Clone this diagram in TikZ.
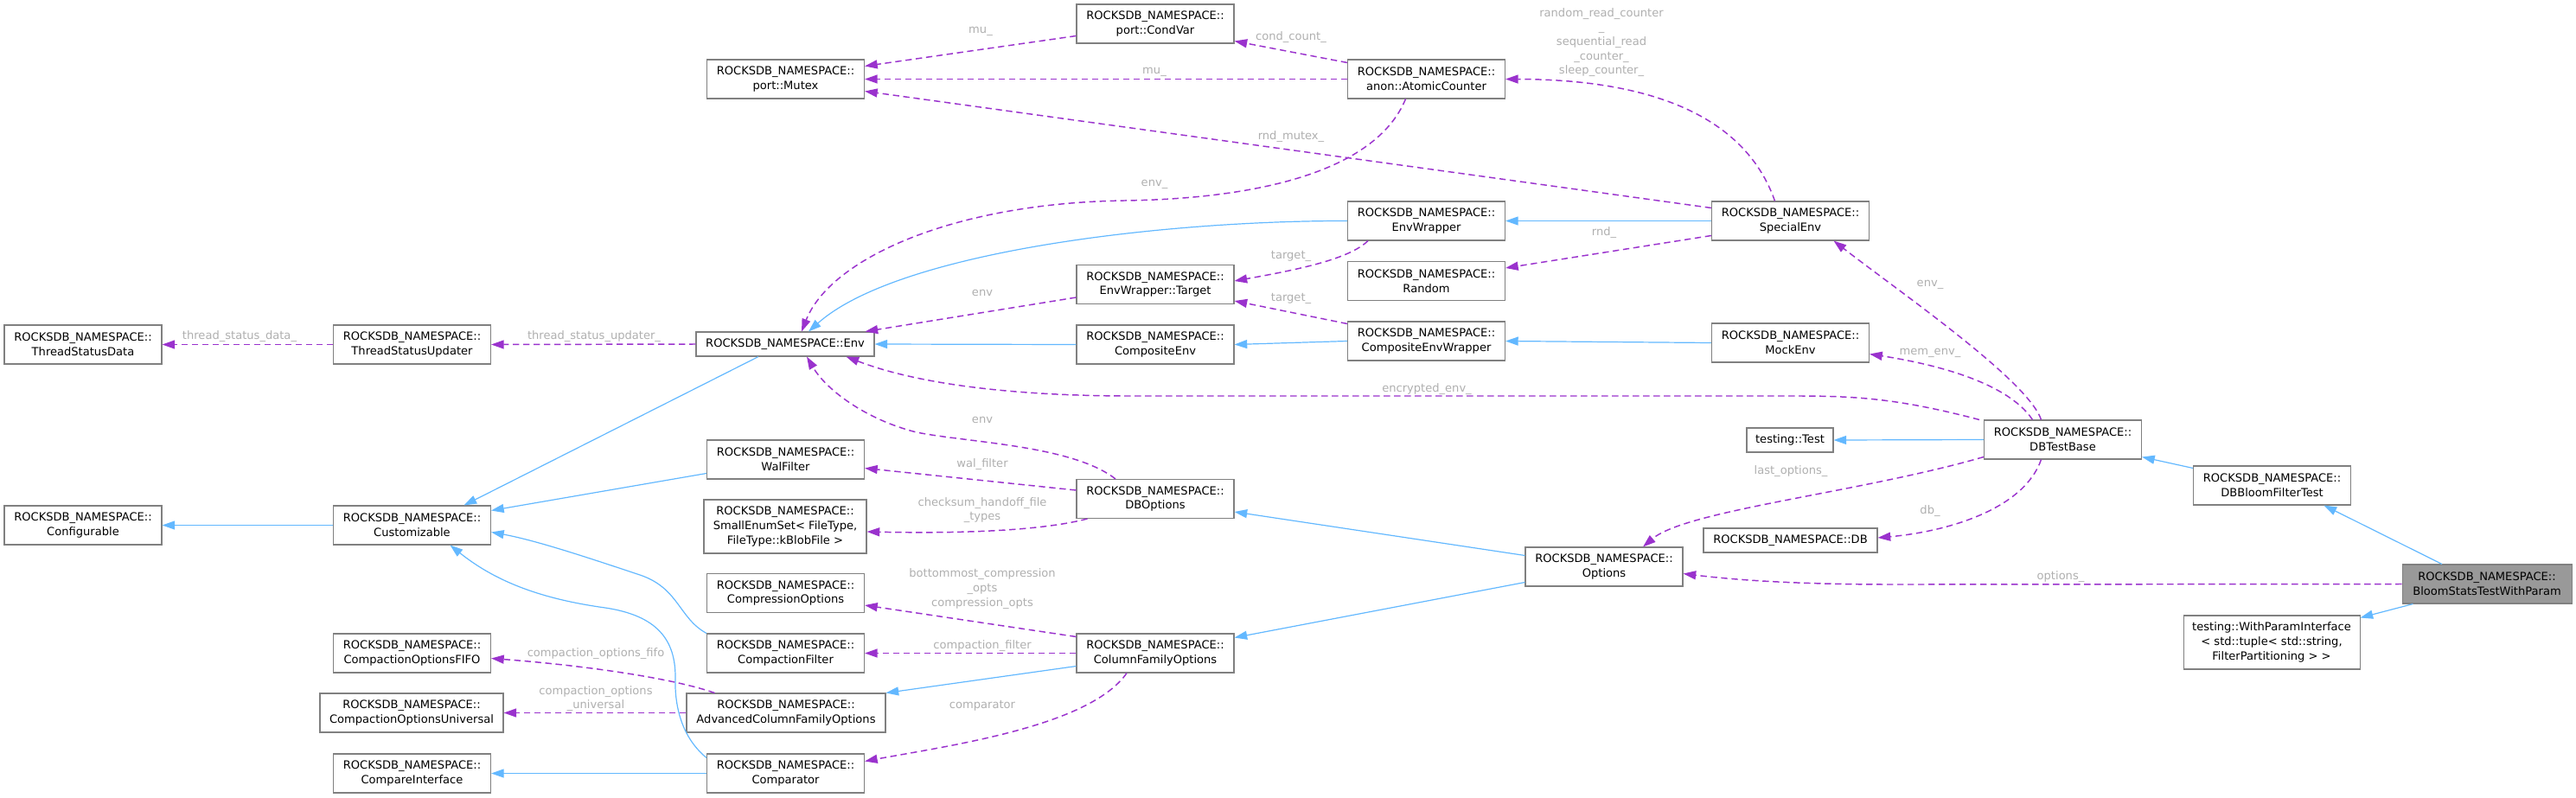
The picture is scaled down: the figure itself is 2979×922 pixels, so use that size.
\documentclass[tikz,border=0pt]{standalone}
\usepackage{fontspec}
\setmainfont{DejaVu Sans}
\usetikzlibrary{positioning,arrows.meta,calc}
\definecolor{boxcol}{RGB}{128,128,128}
\definecolor{selcol}{RGB}{153,153,153}
\definecolor{inhcol}{RGB}{99,184,255}
\definecolor{memcol}{RGB}{154,50,205}
\definecolor{lblcol}{RGB}{175,175,175}
\newcommand{\dxfont}{\fontsize{9.8}{12.5}\selectfont}

\begin{document}
\begin{tikzpicture}[
  x=0.75pt, y=-0.75pt,
  every node/.style={font=\dxfont},
  %% class box  \node[cls=<width in px>]{...}
  cls/.style={
    draw=boxcol, fill=white, line width=0.8pt,
    minimum width=#1*0.75pt, minimum height=33.75pt,
    align=center, inner sep=0pt
  },
  cls/.default=182,
  %% edge labels
  lbl/.style={text=lblcol, align=center, inner sep=0pt},
  %% inheritance (blue) and member (purple, dashed) arrows
  inh/.style={-{Triangle[length=11pt,width=7.5pt]}, line width=0.9pt, color=inhcol},
  mem/.style={-{Triangle[length=11pt,width=7.5pt]}, line width=1.1pt, color=memcol,
              dash pattern=on 5.5pt off 3.5pt},
]
\useasboundingbox (0,0) rectangle (2979,922);

%%── Column 1 ────────────────────────────────────────────────────────────────
\node[cls] (tsd) at (96,398.5) {ROCKSDB\_NAMESPACE::\\ThreadStatusData};
\node[cls] (cfg) at (96,607.5) {ROCKSDB\_NAMESPACE::\\Configurable};

%%── Column 2 ────────────────────────────────────────────────────────────────
\node[cls] (tsu)   at (476.5,398.5) {ROCKSDB\_NAMESPACE::\\ThreadStatusUpdater};
\node[cls] (cust)  at (476.5,607.5) {ROCKSDB\_NAMESPACE::\\Customizable};
\node[cls] (fifo)  at (476.5,755.5) {ROCKSDB\_NAMESPACE::\\CompactionOptionsFIFO};
\node[cls=212] (univ) at (476,824.5) {ROCKSDB\_NAMESPACE::\\CompactionOptionsUniversal};
\node[cls] (cmpif) at (476.5,894.5) {ROCKSDB\_NAMESPACE::\\CompareInterface};

%%── Column 3 ────────────────────────────────────────────────────────────────
\node[cls] (mutex) at (908.5,91.5) {ROCKSDB\_NAMESPACE::\\port::Mutex};
\node[cls=206, minimum height=21pt] (env) at (908,398) {ROCKSDB\_NAMESPACE::Env};
\node[cls] (wal)   at (908.5,531.5) {ROCKSDB\_NAMESPACE::\\WalFilter};
\node[cls=188, minimum height=46.5pt] (sset) at (908,609)
  {ROCKSDB\_NAMESPACE::\\SmallEnumSet< FileType,\\FileType::kBlobFile >};
\node[cls] (compr) at (908.5,686) {ROCKSDB\_NAMESPACE::\\CompressionOptions};
\node[cls] (cfilt) at (908.5,755.5) {ROCKSDB\_NAMESPACE::\\CompactionFilter};
\node[cls=230] (acfo) at (909,824.5) {ROCKSDB\_NAMESPACE::\\AdvancedColumnFamilyOptions};
\node[cls] (cmp)   at (908.5,894.5) {ROCKSDB\_NAMESPACE::\\Comparator};

%%── Column 4 ────────────────────────────────────────────────────────────────
\node[cls] (condvar) at (1336,27.5) {ROCKSDB\_NAMESPACE::\\port::CondVar};
\node[cls] (target)  at (1336,329)  {ROCKSDB\_NAMESPACE::\\EnvWrapper::Target};
\node[cls] (cenv)    at (1336,398.5) {ROCKSDB\_NAMESPACE::\\CompositeEnv};
\node[cls] (dbopt)   at (1336,577)  {ROCKSDB\_NAMESPACE::\\DBOptions};
\node[cls] (cfo)     at (1336,755.5) {ROCKSDB\_NAMESPACE::\\ColumnFamilyOptions};

%%── Column 5 ────────────────────────────────────────────────────────────────
\node[cls] (atomic) at (1649.5,91.5)  {ROCKSDB\_NAMESPACE::\\anon::AtomicCounter};
\node[cls] (envw)   at (1649.5,255.5) {ROCKSDB\_NAMESPACE::\\EnvWrapper};
\node[cls] (rand)   at (1649.5,325)   {ROCKSDB\_NAMESPACE::\\Random};
\node[cls] (cenvw)  at (1649.5,394.5) {ROCKSDB\_NAMESPACE::\\CompositeEnvWrapper};
\node[cls] (opts)   at (1855,655.5)   {ROCKSDB\_NAMESPACE::\\Options};

%%── Column 6 ────────────────────────────────────────────────────────────────
\node[cls] (senv) at (2070.5,255.5) {ROCKSDB\_NAMESPACE::\\SpecialEnv};
\node[cls] (menv) at (2070.5,396.5) {ROCKSDB\_NAMESPACE::\\MockEnv};
\node[cls=100, minimum height=21pt] (gtest) at (2070,509) {testing::Test};
\node[cls=201, minimum height=21pt] (db) at (2070.5,625) {ROCKSDB\_NAMESPACE::DB};

%%── Columns 7-9 ─────────────────────────────────────────────────────────────
\node[cls] (dbtb)  at (2385.5,508.5) {ROCKSDB\_NAMESPACE::\\DBTestBase};
\node[cls] (dbbft) at (2627.5,561.5) {ROCKSDB\_NAMESPACE::\\DBBloomFilterTest};
\node[cls=204, minimum height=46.5pt] (wpi) at (2627,743)
  {testing::WithParamInterface\\< std::tuple< std::string,\\ FilterPartitioning > >};
\node[cls=196, fill=selcol] (bstwp) at (2876,675.5)
  {ROCKSDB\_NAMESPACE::\\BloomStatsTestWithParam};

%%══════════════════════════════════════════════════════════════════════════
%%  Inheritance
%%══════════════════════════════════════════════════════════════════════════
\draw[inh] (cust.west) -- (cfg.east);
\draw[inh] ($(env.south)+(-31,0)$) -- ($(cust.north)+(60,0)$);
\draw[inh] ($(wal.west)+(0,16)$) -- ($(cust.east)+(0,-17)$);
\draw[inh] (cfilt.north west) .. controls (785,715) and (785,680) .. (740,665)
  .. controls (680,645) and (620,625) .. ($(cust.east)+(0,8)$);
\draw[inh] ($(cmp.north west)+(0,5)$) .. controls (785,850) and (780,810) .. (781,783)
  .. controls (781,740) and (760,712) .. (700,703)
  .. controls (620,692) and (570,670) .. ($(cust.south)+(44,0)$);
\draw[inh] (cmp.west) -- (cmpif.east);
\draw[inh] (envw.west) .. controls (1350,255) and (1040,290) .. ($(env.north)+(27,0)$);
\draw[inh] (cenv.west) -- (env.east);
\draw[inh] (cenvw.west) -- (cenv.east);
\draw[inh] (senv.west) -- (envw.east);
\draw[inh] (menv.west) -- (cenvw.east);
\draw[inh] ($(opts.west)+(0,-13)$) -- ($(dbopt.east)+(0,15)$);
\draw[inh] ($(opts.west)+(0,18)$) -- ($(cfo.east)+(0,-18)$);
\draw[inh] ($(cfo.west)+(0,15)$) -- (acfo.north east);
\draw[inh] (dbtb.west) -- (gtest.east);
\draw[inh] ($(dbbft.north west)+(0,3)$) -- ($(dbtb.south east)+(0,-3)$);
\draw[inh] ($(bstwp.north)+(-52,0)$) -- ($(dbbft.south)+(60,0)$);
\draw[inh] ($(bstwp.south west)+(13,0)$) -- ($(wpi.north east)+(0,3)$);

%%══════════════════════════════════════════════════════════════════════════
%%  Members
%%══════════════════════════════════════════════════════════════════════════
\draw[mem] (tsu.west) -- (tsd.east);
\draw[mem] (env.west) -- (tsu.east);
\draw[mem] ($(condvar.west)+(0,14)$) -- ($(mutex.east)+(0,-15)$);
\draw[mem] (atomic.west) -- (mutex.east);
\draw[mem] ($(atomic.north west)+(0,4)$) -- ($(condvar.east)+(0,20)$);
\draw[mem] ($(senv.west)+(0,-15)$) -- ($(mutex.east)+(0,14)$);
\draw[mem] ($(atomic.south)+(-24,0)$) .. controls (1590,200) and (1450,230) .. (1300,232)
  .. controls (1100,235) and (960,300) .. ($(env.north)+(19,0)$);
\draw[mem] ($(senv.north)+(-18,0)$) .. controls (2020,140) and (1920,92) .. (atomic.east);
\draw[mem] ($(senv.west)+(0,17)$) -- ($(rand.east)+(0,-15)$);
\draw[mem] ($(envw.south west)+(24,0)$) .. controls (1560,300) and (1500,312)
  .. ($(target.east)+(0,-4)$);
\draw[mem] ($(cenvw.north west)+(0,3)$) -- ($(target.east)+(0,19)$);
\draw[mem] ($(target.west)+(0,15)$) -- ($(env.north east)+(-11,0)$);
\draw[mem] ($(dbtb.north west)+(-5,0)$) .. controls (2200,462) and (2150,458) .. (2080,458)
  -- (1310,458) .. controls (1150,458) and (1050,440) .. ($(env.south east)+(-33,0)$);
\draw[mem] ($(dbopt.north)+(-46,0)$) .. controls (1240,515) and (1120,512) .. (1060,500)
  .. controls (1000,485) and (955,450) .. ($(env.south)+(25,0)$);
\draw[mem] ($(dbtb.north)+(-25,0)$) .. controls (2345,440) and (2200,340)
  .. ($(senv.south)+(50,0)$);
\draw[mem] ($(dbtb.north)+(-35,0)$) .. controls (2320,440) and (2230,420)
  .. ($(menv.east)+(0,13)$);
\draw[mem] ($(dbtb.west)+(0,20)$) .. controls (2150,570) and (1950,590)
  .. ($(opts.north)+(45,0)$);
\draw[mem] ($(dbtb.south)+(-25,0)$) .. controls (2340,590) and (2250,615)
  .. ($(db.east)+(0,-3)$);
\draw[mem] (bstwp.west) -- (2190,676) .. controls (2070,676) and (2000,670)
  .. ($(opts.east)+(0,8)$);
\draw[mem] ($(dbopt.west)+(0,-10)$) -- ($(wal.east)+(0,10)$);
\draw[mem] ($(dbopt.south west)+(13,0)$) .. controls (1200,615) and (1100,617)
  .. ($(sset.east)+(0,6)$);
\draw[mem] ($(cfo.north west)+(0,4)$) -- ($(compr.east)+(0,14)$);
\draw[mem] (cfo.west) -- (cfilt.east);
\draw[mem] ($(cfo.south)+(-33,0)$) .. controls (1260,840) and (1100,862)
  .. ($(cmp.east)+(0,-14)$);
\draw[mem] ($(acfo.north west)+(33,0)$) .. controls (780,785) and (680,770)
  .. ($(fifo.east)+(0,6)$);
\draw[mem] (acfo.west) -- (univ.east);

%%── Member labels ───────────────────────────────────────────────────────────
\node[lbl] (ltsd)    at (277,389)  {thread\_status\_data\_};
\node[lbl] (ltsu)    at (687,389)  {thread\_status\_updater\_};
\node[lbl] (lmu1)    at (1134,36)  {mu\_};
\node[lbl] (lmu2)    at (1335,83)  {mu\_};
\node[lbl] (lcond)   at (1493,43)  {cond\_count\_};
\node[lbl] (lrmtx)   at (1493,158) {rnd\_mutex\_};
\node[lbl] (lenv1)   at (1335,213) {env\_};
\node[lbl] (lcnt)    at (1852,49)
  {random\_read\_counter\\\_\\sequential\_read\\\_counter\_\\sleep\_counter\_};
\node[lbl] (lrnd)    at (1855,269) {rnd\_};
\node[lbl] (ltgt1)   at (1493,296) {target\_};
\node[lbl] (ltgt2)   at (1493,345) {target\_};
\node[lbl] (lenv2)   at (1136,339) {env};
\node[lbl] (lencr)   at (1650,450) {encrypted\_env\_};
\node[lbl] (lenv3)   at (1136,486) {env};
\node[lbl] (lwal)    at (1136,537) {wal\_filter};
\node[lbl] (lcsum)   at (1136,590) {checksum\_handoff\_file\\\_types};
\node[lbl] (lcomp)   at (1136,681) {bottommost\_compression\\\_opts\\compression\_opts};
\node[lbl] (lcfilt)  at (1136,747) {compaction\_filter};
\node[lbl] (lcmp)    at (1136,816) {comparator};
\node[lbl] (lfifo)   at (689,756)  {compaction\_options\_fifo};
\node[lbl] (luniv)   at (689,808)  {compaction\_options\\\_universal};
\node[lbl] (lenv4)   at (2232,329) {env\_};
\node[lbl] (lmem)    at (2232,408) {mem\_env\_};
\node[lbl] (llast)   at (2071,545) {last\_options\_};
\node[lbl] (ldb)     at (2232,591) {db\_};
\node[lbl] (lopts)   at (2383,667) {options\_};

\end{tikzpicture}
\end{document}
